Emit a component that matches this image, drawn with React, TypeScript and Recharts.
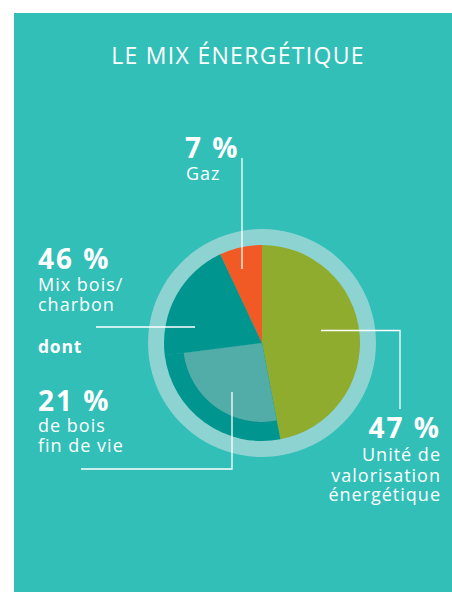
import { PieChart, Pie, Cell } from "recharts";

// outer pie: angular shares (the 46 % block is split in two)
const sliceNames = ["Unité de valorisation énergétique", "Bois fin de vie", "Mix bois/charbon", "Gaz"];
const sliceShares = [47, 26, 20, 7];
const sliceColors = ["#8fac2f", "#00958e", "#00958e", "#f15a25"];
// inner wedge highlights the "bois fin de vie" part
const innerColors = ["transparent", "#52aca8", "transparent", "transparent"];
const ringShare = [100];

const labelValues = ["7 %", "46 %", "21 %", "47 %"];

const sliceData = sliceNames.map((name, i) => ({ name, value: sliceShares[i] }));
const ringData = ringShare.map((value) => ({ name: "ring", value }));

const BG = "#31bfb8";
const FONT = "'Open Sans', 'Noto Sans', sans-serif";

export default function App() {
  return (
    <div style={{ position: "absolute", left: 0, top: 0, width: 452, height: 592, background: "#fff" }}>
      <div style={{ position: "absolute", left: 14, top: 13, width: 438, height: 579, background: BG }} />
      <div style={{ position: "absolute", left: 0, top: 0 }}>
        <PieChart width={452} height={592} margin={{ top: 0, right: 0, bottom: 0, left: 0 }}>
          <Pie
            data={ringData}
            dataKey="value"
            cx={262}
            cy={343}
            innerRadius={97}
            outerRadius={114}
            startAngle={90}
            endAngle={-270}
            stroke="none"
            isAnimationActive={false}
          >
            <Cell fill="#8dd3d1" />
          </Pie>
          <Pie
            data={sliceData}
            dataKey="value"
            cx={262}
            cy={343}
            outerRadius={98}
            startAngle={90}
            endAngle={-270}
            stroke="none"
            isAnimationActive={false}
          >
            {sliceData.map((d, i) => (
              <Cell key={d.name} fill={sliceColors[i]} />
            ))}
          </Pie>
          <Pie
            data={sliceData}
            dataKey="value"
            cx={262}
            cy={343}
            outerRadius={79}
            startAngle={90}
            endAngle={-270}
            stroke="none"
            isAnimationActive={false}
          >
            {sliceData.map((d, i) => (
              <Cell key={d.name} fill={innerColors[i]} />
            ))}
          </Pie>
        </PieChart>
      </div>
      <svg
        width={452}
        height={592}
        style={{ position: "absolute", left: 0, top: 0, pointerEvents: "none" }}
        fontFamily={FONT}
        fill="#fff"
      >
        <text x={238} y={64} fontSize={23} fontWeight={500} textAnchor="middle" letterSpacing={1.3}>
          LE MIX ÉNERGÉTIQUE
        </text>

        {/* leader lines */}
        <g stroke="#fff" strokeWidth={1.3} fill="none">
          <polyline points="242,158 242,269" />
          <polyline points="96,327 195,327" />
          <polyline points="321,330.5 400,330.5 400,409" />
          <polyline points="232,392 232,469 81,469" />
        </g>

        {/* Gaz */}
        <text x={185} y={158} fontSize={28} fontWeight={700} letterSpacing={2}>
          {labelValues[0]}
        </text>
        <text x={186} y={180} fontSize={18} fontWeight={500} letterSpacing={1}>Gaz</text>

        {/* Mix bois/charbon */}
        <text x={38} y={269} fontSize={28} fontWeight={700} letterSpacing={2}>
          {labelValues[1]}
        </text>
        <text x={38} y={290.5} fontSize={18} fontWeight={500} letterSpacing={1}>Mix bois/</text>
        <text x={38} y={311} fontSize={18} fontWeight={500} letterSpacing={1}>charbon</text>
        <text x={38} y={353} fontSize={17.5} fontWeight={700} letterSpacing={0.8}>dont</text>

        {/* bois fin de vie */}
        <text x={38} y={411} fontSize={28} fontWeight={700} letterSpacing={2}>
          {labelValues[2]}
        </text>
        <text x={38} y={431.5} fontSize={18} fontWeight={500} letterSpacing={1}>de bois</text>
        <text x={38} y={451.5} fontSize={18} fontWeight={500} letterSpacing={1}>fin de vie</text>

        {/* UVE */}
        <text x={441} y={437.5} fontSize={28} fontWeight={700} textAnchor="end" letterSpacing={2}>
          {labelValues[3]}
        </text>
        <text x={441} y={460.5} fontSize={18} fontWeight={500} textAnchor="end" letterSpacing={1}>Unité de</text>
        <text x={441} y={481.5} fontSize={18} fontWeight={500} textAnchor="end" letterSpacing={1}>valorisation</text>
        <text x={441} y={500.5} fontSize={18} fontWeight={500} textAnchor="end" letterSpacing={1}>énergétique</text>
      </svg>
    </div>
  );
}
